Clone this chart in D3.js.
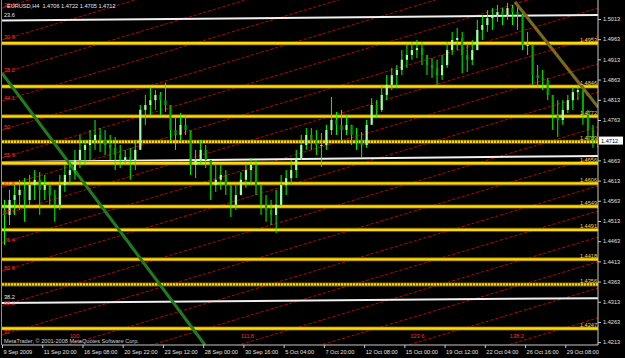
<!DOCTYPE html>
<html><head><meta charset="utf-8">
<script src="https://cdn.jsdelivr.net/npm/d3@7"></script>
<style>html,body{margin:0;padding:0;background:#000;overflow:hidden}svg{display:block}</style>
</head><body><svg id="c" width="625" height="358"></svg>
<script>
// ---- data ----
const symbolTitle = "EURUSD,H4  1.4706 1.4722 1.4705 1.4712";
const copyright = "MetaTrader, \u00a9 2001-2008 MetaQuotes Software Corp.";
const lastPrice = 1.4712;
const firstOpen = 1.4540;
const highs = [1.4565,1.4590,1.4602,1.4615,1.4619,1.4627,1.4639,1.4634,1.4627,1.4607,1.4590,1.4627,1.4652,1.4664,1.4689,1.4726,1.4713,1.4738,1.4763,1.4743,
1.4738,1.4726,1.4721,1.4701,1.4689,1.4694,1.4713,1.4800,1.4825,1.4845,1.4837,1.4832,1.4855,1.4800,1.4768,1.4780,1.4775,1.4713,1.4689,1.4713,
1.4701,1.4664,1.4652,1.4652,1.4639,1.4602,1.4602,1.4634,1.4652,1.4669,1.4664,1.4585,1.4577,1.4565,1.4590,1.4627,1.4639,1.4664,1.4689,1.4726,
1.4743,1.4743,1.4738,1.4731,1.4751,1.4820,1.4783,1.4788,1.4775,1.4751,1.4743,1.4733,1.4763,1.4817,1.4812,1.4850,1.4874,1.4892,1.4899,1.4936,
1.4949,1.4956,1.4961,1.4956,1.4924,1.4916,1.4912,1.4924,1.4956,1.4981,1.4991,1.4981,1.4949,1.4961,1.5011,1.5023,1.5035,1.5040,1.5048,1.5040,
1.5053,1.5048,1.5053,1.5030,1.4981,1.4949,1.4899,1.4887,1.4867,1.4825,1.4812,1.4812,1.4825,1.4845,1.4850,1.4837,1.4788,1.4751,1.4733];
const lows = [1.4454,1.4503,1.4528,1.4540,1.4511,1.4553,1.4565,1.4528,1.4565,1.4553,1.4511,1.4540,1.4585,1.4602,1.4615,1.4644,1.4652,1.4664,1.4689,1.4684,
1.4676,1.4664,1.4639,1.4644,1.4652,1.4615,1.4639,1.4701,1.4751,1.4775,1.4788,1.4775,1.4783,1.4713,1.4689,1.4713,1.4726,1.4627,1.4619,1.4652,
1.4644,1.4565,1.4585,1.4590,1.4577,1.4523,1.4540,1.4577,1.4595,1.4602,1.4577,1.4528,1.4511,1.4503,1.4483,1.4553,1.4577,1.4602,1.4619,1.4664,
1.4689,1.4689,1.4676,1.4647,1.4689,1.4726,1.4726,1.4713,1.4726,1.4701,1.4689,1.4671,1.4694,1.4763,1.4768,1.4783,1.4812,1.4837,1.4842,1.4874,
1.4892,1.4912,1.4916,1.4899,1.4874,1.4867,1.4850,1.4862,1.4892,1.4924,1.4936,1.4879,1.4882,1.4899,1.4936,1.4961,1.4981,1.4986,1.5006,1.4998,
1.5011,1.4998,1.4986,1.4936,1.4924,1.4850,1.4845,1.4837,1.4812,1.4738,1.4721,1.4751,1.4780,1.4788,1.4812,1.4751,1.4713,1.4694,1.4694];
const closes = [1.4528,1.4565,1.4577,1.4590,1.4565,1.4602,1.4615,1.4590,1.4602,1.4577,1.4553,1.4602,1.4627,1.4639,1.4664,1.4689,1.4701,1.4713,1.4726,1.4713,
1.4701,1.4694,1.4676,1.4664,1.4671,1.4664,1.4689,1.4788,1.4800,1.4812,1.4825,1.4812,1.4800,1.4738,1.4726,1.4751,1.4738,1.4652,1.4664,1.4689,
1.4664,1.4602,1.4615,1.4627,1.4602,1.4553,1.4577,1.4615,1.4639,1.4652,1.4602,1.4553,1.4540,1.4528,1.4553,1.4602,1.4619,1.4639,1.4669,1.4701,
1.4726,1.4713,1.4701,1.4701,1.4738,1.4763,1.4751,1.4738,1.4751,1.4726,1.4713,1.4701,1.4751,1.4800,1.4788,1.4825,1.4850,1.4874,1.4887,1.4912,
1.4924,1.4936,1.4941,1.4924,1.4899,1.4892,1.4874,1.4899,1.4936,1.4961,1.4966,1.4924,1.4912,1.4936,1.4986,1.4998,1.5015,1.5023,1.5030,1.5023,
1.5040,1.5030,1.5023,1.4949,1.4949,1.4874,1.4867,1.4862,1.4825,1.4775,1.4763,1.4788,1.4812,1.4832,1.4837,1.4775,1.4738,1.4718,1.4712];

const priceTicks = [1.5013,1.4963,1.4913,1.4863,1.4813,1.4763,1.4663,1.4613,1.4563,1.4513,1.4463,1.4413,1.4363,1.4313,1.4263,1.4213];
const timeTickBars = [0,16,32,48,64,80,96,112,128,144,160,176,192,208,224];
const timeLabels = ["9 Sep 2009","11 Sep 20:00","16 Sep 08:00","20 Sep 22:00","23 Sep 12:00","28 Sep 00:00","30 Sep 16:00","5 Oct 04:00","7 Oct 20:00","12 Oct 08:00","15 Oct 00:00","19 Oct 12:00","22 Oct 04:00","26 Oct 16:00","29 Oct 08:00"];

// yellow horizontal levels with price labels on the right
const yellowLevels = [1.4953,1.4846,1.4772,1.4709,1.4656,1.4606,1.4549,1.4491,1.4418,1.4356,1.4247];
const yellowDotted = [false,false,false,true,false,false,false,false,false,true,false];

// white (slightly tilted) levels: price at first bar, price at last bar, label
const whiteStart = [1.5009,1.4659,1.4310];
const whiteEnd   = [1.5023,1.4674,1.4322];
const whiteLabels = ["23.6","","38.2"];

// red dashed channel lines: price at first bar and at last bar, and labels
const redStart = [1.5040,1.4961,1.4879,1.4810,1.4738,1.4669,1.4597,1.4528,1.4459,1.4389,1.4303,1.4231,1.4157,1.4095,1.4030,1.3969,1.3904,1.3830,1.3766];
const redEnd   = [1.5483,1.5404,1.5322,1.5253,1.5181,1.5112,1.5040,1.4971,1.4902,1.4832,1.4746,1.4674,1.4600,1.4538,1.4473,1.4412,1.4347,1.4273,1.4209];
const redLabels = ["23.6","30.9","38.2","44.1","50","55.9","61.8","67.7","76.4","80.9","88.2","97","100","","111.8","","123.6","138.2",""];

// trend lines: [bar, price] endpoints
const greenTrend = [[0,1.4879],[80.7,1.4206]];
const brownTrend = [[204,1.5055],[237,1.4795]];

const lastBar = 237;

// ---- drawing ----
const W=625,H=358, L=2, R=598, T=0, B=345;
const svg = d3.select("#c");
svg.append("rect").attr("width",W).attr("height",H).attr("fill","#000");

const x = d3.scaleLinear().domain([0,lastBar]).range([L,R]);
const y = d3.scaleLinear().domain([1.4206,1.5060]).range([B,T]);

svg.append("defs").append("clipPath").attr("id","clip")
  .append("rect").attr("x",L).attr("y",T).attr("width",R-L).attr("height",B-T);

const plot = svg.append("g").attr("clip-path","url(#clip)");
const font = "Liberation Sans, Arial, sans-serif";
const fs = 5.6;

// red dashed lines
redStart.forEach((p0,i)=>{
  plot.append("line").attr("x1",x(0)).attr("y1",y(p0)).attr("x2",x(lastBar)).attr("y2",y(redEnd[i]))
    .attr("stroke","#c00000").attr("stroke-width",1).attr("stroke-dasharray","3,2");
});

// white lines
whiteStart.forEach((p0,i)=>{
  plot.append("line").attr("x1",x(0)).attr("y1",y(p0)).attr("x2",x(lastBar)).attr("y2",y(whiteEnd[i]))
    .attr("stroke","#f0f0f0").attr("stroke-width",2);
});

// yellow lines
yellowLevels.forEach((p,i)=>{
  plot.append("line").attr("x1",L).attr("x2",R).attr("y1",y(p)).attr("y2",y(p))
    .attr("stroke","#7a6200").attr("stroke-width",4);
  plot.append("line").attr("x1",L).attr("x2",R).attr("y1",y(p)).attr("y2",y(p))
    .attr("stroke","#ffd800").attr("stroke-width",2.4)
    .attr("stroke-dasharray", yellowDotted[i] ? "2,1" : null);
});

// green trend
plot.append("line").attr("x1",x(greenTrend[0][0])).attr("y1",y(greenTrend[0][1]))
  .attr("x2",x(greenTrend[1][0])).attr("y2",y(greenTrend[1][1]))
  .attr("stroke","#1e7d1e").attr("stroke-width",3);

// candles
const candleW = 2.2;
const cg = plot.append("g");
closes.forEach((c,i)=>{
  const o = i===0 ? firstOpen : closes[i-1];
  const bar = 2*i+1;
  const cx = x(bar);
  cg.append("line").attr("x1",cx).attr("x2",cx).attr("y1",y(highs[i])).attr("y2",y(lows[i]))
    .attr("stroke","#00ff00").attr("stroke-width",1);
  const top = y(Math.max(o,c)), bot = y(Math.min(o,c));
  cg.append("rect").attr("x",cx-candleW/2).attr("y",top).attr("width",candleW).attr("height",Math.max(1,bot-top))
    .attr("fill", c>=o ? "#a0ffa0" : "#00a800");
});

// brown trend on top
plot.append("line").attr("x1",x(brownTrend[0][0])).attr("y1",y(brownTrend[0][1]))
  .attr("x2",x(brownTrend[1][0])).attr("y2",y(brownTrend[1][1]))
  .attr("stroke","#8a5a1a").attr("stroke-width",3.2);
plot.append("line").attr("x1",x(brownTrend[0][0])).attr("y1",y(brownTrend[0][1]))
  .attr("x2",x(brownTrend[1][0])).attr("y2",y(brownTrend[1][1]))
  .attr("stroke","#2fa02f").attr("stroke-width",1.2).attr("stroke-dasharray","2,2");

// yellow labels
yellowLevels.forEach(p=>{
  plot.append("text").attr("x",R-1).attr("y",y(p)-1.6).attr("text-anchor","end")
    .attr("font-family",font).attr("font-size",fs).attr("fill","#e8d070").text(d3.format(".4f")(p));
});

// white labels
whiteStart.forEach((p,i)=>{
  if(!whiteLabels[i]) return;
  plot.append("text").attr("x",4).attr("y",y(p)-4).attr("font-family",font).attr("font-size",fs)
    .attr("fill","#e8e8e8").text(whiteLabels[i]);
});

// red labels at the entry point of each line
redStart.forEach((p0,i)=>{
  if(!redLabels[i]) return;
  const yl = y(p0), yr = y(redEnd[i]);
  let lx, ly;
  if (yl <= B) { lx = L+2; ly = yl-1; }
  else { const t=(yl-B)/(yl-yr); lx = L + t*(R-L) + 2; ly = B-7; }
  plot.append("text").attr("x",lx).attr("y",ly).attr("font-family",font).attr("font-size",fs)
    .attr("fill","#ff2a2a").text(redLabels[i]);
});

// axes
const ax = svg.append("g").attr("transform",`translate(${R},0)`)
  .call(d3.axisRight(y).tickValues(priceTicks).tickSize(3).tickSizeOuter(0).tickFormat(d3.format(".4f")));
ax.select(".domain").attr("stroke","#c8c8c8").attr("d",`M0,${T}V${B}`);
ax.selectAll(".tick line").attr("stroke","#c8c8c8");
ax.selectAll(".tick text").attr("fill","#e0e0e0").attr("font-family",font).attr("font-size",fs).attr("x",5);

const bx = svg.append("g").attr("transform",`translate(0,${B})`)
  .call(d3.axisBottom(x).tickValues(timeTickBars).tickSize(3).tickSizeOuter(0).tickFormat((d,i)=>timeLabels[i]));
bx.select(".domain").attr("stroke","#c8c8c8").attr("d",`M${L},0H${R}`);
bx.selectAll(".tick line").attr("stroke","#c8c8c8");
bx.selectAll(".tick text").attr("fill","#e0e0e0").attr("font-family",font).attr("font-size",fs)
  .attr("text-anchor","start").attr("dx",1).attr("y",5);

// left border
svg.append("line").attr("x1",L-0.5).attr("x2",L-0.5).attr("y1",T).attr("y2",B).attr("stroke","#909090");

// current price box
svg.append("rect").attr("x",R+1).attr("y",y(lastPrice)-4).attr("width",24).attr("height",8).attr("fill","#fff");
svg.append("text").attr("x",R+3).attr("y",y(lastPrice)+2).attr("font-family",font).attr("font-size",fs)
  .attr("fill","#000").text(d3.format(".4f")(lastPrice));

// titles
svg.append("text").attr("x",7).attr("y",8).attr("font-family",font).attr("font-size",fs)
  .attr("fill","#e8e8e8").attr("xml:space","preserve").text(symbolTitle);
svg.append("text").attr("x",4).attr("y",343).attr("font-family",font).attr("font-size",fs)
  .attr("fill","#d0d0d0").text(copyright);
</script></body></html>
